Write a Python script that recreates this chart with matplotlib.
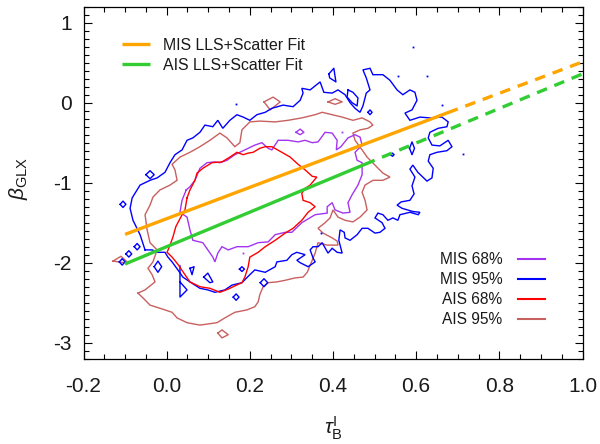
import matplotlib
matplotlib.use("Agg")
import numpy as np
import matplotlib.pyplot as plt
from matplotlib.lines import Line2D
from matplotlib.ticker import MultipleLocator, FormatStrFormatter

plt.rcParams['font.family'] = ['Liberation Sans', 'DejaVu Sans']
plt.rcParams['axes.unicode_minus'] = False
plt.rcParams['mathtext.fontset'] = 'custom'
plt.rcParams['mathtext.rm'] = 'Liberation Sans'
plt.rcParams['mathtext.it'] = 'Liberation Sans:italic'

# ---- linear fits: beta = intercept + slope * tau ----
fit_labels = ['MIS LLS+Scatter Fit', 'AIS LLS+Scatter Fit']
fit_slope = [1.96, 2.16]
fit_intercept = [-1.45, -1.80]
fit_x_start = [-0.1, -0.1]
fit_x_solid_end = [0.7, 0.5]
fit_x_end = [1.0, 1.0]
fit_colors = ['#FFA500', '#32CD32']

# ---- MIS 95% contour ----
mis95_outer = [
    (-0.052, -1.84), (-0.064, -1.65), (-0.081, -1.47), (-0.088, -1.32), (-0.083, -1.19),
    (-0.064, -1.03), (-0.040, -0.97), (-0.023, -0.94), (-0.004, -0.87), (0.008, -0.75),
    (0.020, -0.65), (0.037, -0.59), (0.049, -0.47), (0.063, -0.44), (0.080, -0.37),
    (0.092, -0.28), (0.111, -0.30), (0.123, -0.22), (0.135, -0.32), (0.152, -0.22),
    (0.169, -0.15), (0.184, -0.18), (0.200, -0.22), (0.217, -0.15), (0.237, -0.12),
    (0.253, -0.07), (0.280, -0.03), (0.304, -0.05), (0.321, 0.03), (0.328, 0.12),
    (0.325, 0.18), (0.345, 0.16), (0.369, 0.26), (0.378, 0.13), (0.398, 0.12),
    (0.412, 0.16), (0.429, 0.10), (0.441, 0.00), (0.453, -0.07), (0.465, -0.12),
    (0.472, -0.04), (0.480, 0.12), (0.489, 0.16), (0.480, 0.31), (0.472, 0.41),
    (0.489, 0.43), (0.496, 0.35), (0.520, 0.35), (0.537, 0.28), (0.554, 0.16),
    (0.568, 0.10), (0.585, 0.16), (0.597, 0.13), (0.602, 0.03), (0.590, -0.09),
    (0.573, -0.13), (0.585, -0.22), (0.609, -0.18), (0.633, -0.19), (0.662, -0.18),
    (0.677, -0.24), (0.674, -0.30), (0.653, -0.32), (0.633, -0.37), (0.629, -0.44),
    (0.638, -0.53), (0.657, -0.54), (0.677, -0.47), (0.686, -0.55), (0.674, -0.60),
    (0.650, -0.62), (0.633, -0.65), (0.629, -0.73), (0.641, -0.82), (0.638, -0.94),
    (0.626, -0.98), (0.604, -0.87), (0.592, -0.78), (0.585, -0.83), (0.597, -0.93),
    (0.590, -1.04), (0.595, -1.14), (0.585, -1.22), (0.564, -1.24), (0.554, -1.28),
    (0.566, -1.32), (0.592, -1.36), (0.609, -1.37), (0.605, -1.40), (0.585, -1.37),
    (0.561, -1.40), (0.556, -1.47), (0.544, -1.44), (0.532, -1.47), (0.520, -1.40),
    (0.508, -1.38), (0.501, -1.44), (0.518, -1.50), (0.525, -1.57), (0.513, -1.62),
    (0.501, -1.63), (0.484, -1.57), (0.470, -1.57), (0.458, -1.65), (0.441, -1.72),
    (0.429, -1.69), (0.427, -1.62), (0.417, -1.59), (0.414, -1.72), (0.422, -1.88),
    (0.410, -1.87), (0.398, -1.82), (0.388, -1.88), (0.374, -1.75), (0.364, -1.80),
    (0.352, -1.80), (0.345, -1.84), (0.352, -1.94), (0.357, -1.99), (0.340, -2.05),
    (0.321, -2.00), (0.313, -1.97), (0.333, -1.90), (0.313, -1.87), (0.301, -1.90),
    (0.289, -1.97), (0.265, -1.99), (0.261, -2.05), (0.237, -2.12), (0.212, -2.09),
    (0.200, -2.15), (0.181, -2.25), (0.157, -2.28), (0.140, -2.34), (0.116, -2.37),
    (0.099, -2.34), (0.080, -2.32), (0.056, -2.24), (0.039, -2.18), (0.027, -2.09),
    (0.013, -1.99), (0.003, -1.93), (-0.004, -1.87), (-0.021, -1.87), (-0.035, -1.84),
]
mis95_islands = [
    [(-0.050, -0.90), (-0.040, -0.85), (-0.030, -0.90), (-0.040, -0.95)],
    [(-0.112, -1.27), (-0.105, -1.23), (-0.098, -1.27), (-0.105, -1.31)],
    [(-0.078, -1.80), (-0.071, -1.76), (-0.064, -1.80), (-0.071, -1.84)],
    [(-0.098, -1.89), (-0.091, -1.85), (-0.084, -1.89), (-0.091, -1.93)],
    [(-0.114, -1.99), (-0.107, -1.95), (-0.100, -1.99), (-0.107, -2.03)],
    [(-0.030, -2.05), (-0.021, -1.98), (-0.012, -2.05), (-0.021, -2.12)],
    [(0.056, -2.07), (0.066, -2.05), (0.061, -2.15)],
    [(0.089, -2.18), (0.099, -2.13), (0.111, -2.24), (0.104, -2.25)],
    [(0.160, -2.43), (0.167, -2.39), (0.174, -2.43), (0.167, -2.47)],
    [(0.175, -2.08), (0.181, -2.05), (0.187, -2.08), (0.181, -2.11)],
    [(0.225, -2.25), (0.234, -2.20), (0.243, -2.25), (0.234, -2.30)],
    [(0.390, 0.36), (0.402, 0.43), (0.407, 0.26), (0.392, 0.31)],
    [(0.436, 0.16), (0.448, 0.13), (0.460, 0.06), (0.458, -0.04), (0.446, 0.00), (0.434, 0.07)],
    [(0.584, -0.57), (0.590, -0.49), (0.596, -0.57), (0.590, -0.65)],
    [(0.484, -0.12), (0.489, -0.09), (0.494, -0.12), (0.489, -0.15)],
    [(0.539, -0.65), (0.543, -0.63), (0.547, -0.65), (0.543, -0.67)],
]
mis95_open = [(0.032, -2.04), (0.032, -2.43), (0.049, -2.34), (0.032, -2.24)]
mis95_dots_x = [0.167, 0.592, 0.557, 0.626, 0.662, 0.713, 0.371]
mis95_dots_y = [-0.02, 0.70, 0.33, 0.33, -0.03, -0.64, -1.63]

# ---- MIS 68% contour ----
mis68_outer = [
    (0.047, -1.09), (0.056, -1.05), (0.068, -0.97), (0.080, -0.82), (0.097, -0.75),
    (0.116, -0.74), (0.128, -0.75), (0.145, -0.72), (0.164, -0.65), (0.188, -0.59),
    (0.212, -0.53), (0.229, -0.50), (0.244, -0.57), (0.253, -0.59), (0.268, -0.47),
    (0.292, -0.47), (0.316, -0.49), (0.333, -0.47), (0.350, -0.50), (0.364, -0.49),
    (0.381, -0.37), (0.398, -0.38), (0.410, -0.47), (0.408, -0.59), (0.419, -0.55),
    (0.436, -0.44), (0.453, -0.40), (0.465, -0.43), (0.470, -0.53), (0.453, -0.62),
    (0.458, -0.72), (0.470, -0.75), (0.470, -0.90), (0.460, -1.03), (0.446, -1.15),
    (0.436, -1.25), (0.441, -1.37), (0.424, -1.38), (0.405, -1.34), (0.398, -1.25),
    (0.386, -1.30), (0.386, -1.38), (0.357, -1.40), (0.325, -1.50), (0.301, -1.62),
    (0.285, -1.62), (0.261, -1.65), (0.244, -1.74), (0.220, -1.75), (0.196, -1.80),
    (0.169, -1.80), (0.148, -1.84), (0.133, -1.80), (0.123, -1.88), (0.116, -1.99),
    (0.111, -1.93), (0.099, -1.84), (0.087, -1.75), (0.063, -1.72), (0.056, -1.59),
    (0.049, -1.43), (0.032, -1.37), (0.037, -1.22),
]
mis68_islands = [
    [(0.311, -0.37), (0.321, -0.33), (0.330, -0.37), (0.321, -0.40)],
]
mis68_dots_x = [0.184, 0.422]
mis68_dots_y = [-1.88, -0.37]

# ---- AIS 68% contour ----
ais68_outer = [
    (0.049, -1.19), (0.056, -1.09), (0.068, -0.97), (0.073, -0.88), (0.087, -0.82),
    (0.109, -0.75), (0.133, -0.74), (0.152, -0.68), (0.169, -0.62), (0.184, -0.65),
    (0.196, -0.63), (0.208, -0.62), (0.224, -0.57), (0.237, -0.55), (0.253, -0.55),
    (0.277, -0.62), (0.297, -0.68), (0.316, -0.77), (0.333, -0.84), (0.350, -0.92),
    (0.361, -0.93), (0.345, -1.03), (0.333, -1.07), (0.325, -1.13), (0.328, -1.22),
    (0.345, -1.25), (0.357, -1.30), (0.340, -1.37), (0.325, -1.47), (0.304, -1.57),
    (0.285, -1.63), (0.261, -1.72), (0.237, -1.80), (0.220, -1.87), (0.200, -1.93),
    (0.196, -2.05), (0.188, -2.18), (0.181, -2.25), (0.164, -2.29), (0.148, -2.33),
    (0.128, -2.37), (0.104, -2.32), (0.080, -2.30), (0.056, -2.24), (0.044, -2.15),
    (0.027, -2.02), (0.013, -1.93), (0.001, -1.87), (0.008, -1.78), (0.015, -1.68),
    (0.022, -1.55), (0.034, -1.43), (0.044, -1.34),
]

# ---- AIS 95% contour ----
ais95_outer = [
    (-0.069, -2.38), (-0.052, -2.34), (-0.028, -2.24), (-0.035, -2.15), (-0.045, -2.07),
    (-0.033, -1.99), (-0.023, -1.84), (-0.040, -1.75), (-0.047, -1.59), (-0.052, -1.40),
    (-0.040, -1.28), (-0.033, -1.18), (-0.016, -1.09), (0.008, -1.03), (0.025, -0.97),
    (0.020, -0.84), (0.013, -0.77), (0.032, -0.68), (0.056, -0.62), (0.080, -0.55),
    (0.104, -0.47), (0.128, -0.38), (0.145, -0.44), (0.164, -0.55), (0.176, -0.50),
    (0.181, -0.34), (0.200, -0.24), (0.224, -0.23), (0.261, -0.24), (0.292, -0.22),
    (0.325, -0.19), (0.357, -0.15), (0.374, -0.12), (0.398, -0.15), (0.422, -0.18),
    (0.448, -0.22), (0.470, -0.19), (0.489, -0.24), (0.496, -0.28), (0.484, -0.32),
    (0.465, -0.34), (0.448, -0.38), (0.453, -0.47), (0.470, -0.59), (0.482, -0.68),
    (0.501, -0.78), (0.520, -0.88), (0.537, -0.93), (0.520, -0.97), (0.496, -0.97),
    (0.477, -1.03), (0.470, -1.12), (0.477, -1.22), (0.482, -1.34), (0.465, -1.43),
    (0.448, -1.49), (0.429, -1.47), (0.412, -1.43), (0.400, -1.34), (0.393, -1.44),
    (0.381, -1.50), (0.364, -1.57), (0.376, -1.63), (0.398, -1.69), (0.410, -1.73),
    (0.412, -1.78), (0.386, -1.78), (0.364, -1.75), (0.357, -1.88), (0.350, -1.97),
    (0.338, -2.12), (0.328, -2.18), (0.309, -2.19), (0.285, -2.22), (0.265, -2.24),
    (0.244, -2.25), (0.232, -2.30), (0.224, -2.40), (0.220, -2.49), (0.212, -2.55),
    (0.193, -2.59), (0.164, -2.62), (0.140, -2.69), (0.121, -2.75), (0.080, -2.78),
    (0.049, -2.75), (0.025, -2.69), (0.013, -2.62), (-0.004, -2.59), (-0.040, -2.53),
    (-0.057, -2.44),
]
ais95_islands = [
    [(0.234, 0.01), (0.256, 0.07), (0.273, 0.01), (0.249, -0.09)],
    [(0.388, 0.01), (0.405, 0.05), (0.422, 0.01), (0.405, -0.02)],
    [(0.123, -2.88), (0.133, -2.84), (0.148, -2.90), (0.133, -2.94)],
    [(-0.129, -1.98), (-0.110, -1.92), (-0.095, -1.99), (-0.103, -2.00)],
]

contour_labels = ['MIS 68%', 'MIS 95%', 'AIS 68%', 'AIS 95%']
contour_colors = ['#A335F0', '#0000FF', '#FF0000', '#C8605F']

x_limits = (-0.2, 1.0)
y_limits = (-3.2, 1.2)

# ---- figure ----
fig = plt.figure(figsize=(6.0, 4.44), dpi=100)
ax = fig.add_axes([83.5 / 600, 1 - 358.7 / 444, 499 / 600, 352 / 444])

CLW = 1.0


def closed(pts):
    arr = np.asarray(pts, dtype=float)
    return np.vstack([arr, arr[:1]])


def draw_contour(outer, islands, color, opens=(), dots=None):
    c = closed(outer)
    ax.plot(c[:, 0], c[:, 1], color=color, lw=CLW, solid_joinstyle='miter')
    for isl in islands:
        c = closed(isl)
        ax.plot(c[:, 0], c[:, 1], color=color, lw=CLW)
    for op in opens:
        arr = np.asarray(op, dtype=float)
        ax.plot(arr[:, 0], arr[:, 1], color=color, lw=CLW)
    if dots is not None:
        ax.plot(dots[0], dots[1], ls='none', marker='s', ms=1.3, mew=0,
                color=color)


draw_contour(ais95_outer, ais95_islands, contour_colors[3])
draw_contour(mis95_outer, mis95_islands, contour_colors[1], opens=[mis95_open],
             dots=(mis95_dots_x, mis95_dots_y))
draw_contour(mis68_outer, mis68_islands, contour_colors[0],
             dots=(mis68_dots_x, mis68_dots_y))
draw_contour(ais68_outer, [], contour_colors[2])

# fit lines: solid over the fitted range, dashed extrapolation
fit_handles = []
for m, b, x0, x1, x2, col, lab in zip(fit_slope, fit_intercept, fit_x_start,
                                      fit_x_solid_end, fit_x_end, fit_colors,
                                      fit_labels):
    xs = np.array([x0, x1])
    h, = ax.plot(xs, b + m * xs, color=col, lw=2.4, solid_capstyle='butt',
                 label=lab)
    xd = np.array([x1, x2])
    ax.plot(xd, b + m * xd, color=col, lw=2.4,
            linestyle=(3.2, (3.2, 2.4)), dash_capstyle='butt')
    fit_handles.append(h)

ax.set_xlim(*x_limits)
ax.set_ylim(*y_limits)

ax.xaxis.set_major_locator(MultipleLocator(0.2))
ax.xaxis.set_minor_locator(MultipleLocator(0.05))
ax.yaxis.set_major_locator(MultipleLocator(1))
ax.yaxis.set_minor_locator(MultipleLocator(0.1))
ax.xaxis.set_major_formatter(FormatStrFormatter('%.1f'))
ax.yaxis.set_major_formatter(FormatStrFormatter('%d'))

ax.tick_params(which='both', direction='in', top=True, right=True,
               width=0.8, color='black')
ax.tick_params(which='major', length=6)
ax.tick_params(which='minor', length=3.5)
ax.tick_params(axis='x', which='major', pad=13, labelsize=15,
               labelcolor='#1a1a1a')
ax.tick_params(axis='y', which='major', pad=8.5, labelsize=15,
               labelcolor='#1a1a1a')
for sp in ax.spines.values():
    sp.set_linewidth(0.9)

ax.set_xlabel(r'$\tau_{\rm B}^{\rm I}$', fontsize=15, color='#1a1a1a', va='top')
ax.xaxis.set_label_coords(0.5, -0.158)
ax.set_ylabel(r'$\beta_{\rm GLX}$', fontsize=15, color='#1a1a1a', va='center')
ax.yaxis.set_label_coords(-0.131, 0.513)

leg1 = ax.legend(handles=fit_handles, loc='upper left',
                 bbox_to_anchor=(0.077, 0.911), frameon=False, fontsize=11.4,
                 borderpad=0, borderaxespad=0, handlelength=1.75,
                 handletextpad=0.85, labelspacing=0.3)
for t in leg1.get_texts():
    t.set_color('#1a1a1a')
ax.add_artist(leg1)

contour_handles = [Line2D([], [], color=c, lw=1.5, label=l)
                   for c, l in zip(contour_colors, contour_labels)]
leg2 = ax.legend(handles=contour_handles, loc='lower right',
                 bbox_to_anchor=(0.925, 0.090), frameon=False, fontsize=11.2,
                 borderpad=0, borderaxespad=0, handlelength=1.75,
                 handletextpad=1.0, labelspacing=0.32, markerfirst=False)
for t in leg2.get_texts():
    t.set_color('#1a1a1a')

fig.savefig('out.png', dpi=100)
